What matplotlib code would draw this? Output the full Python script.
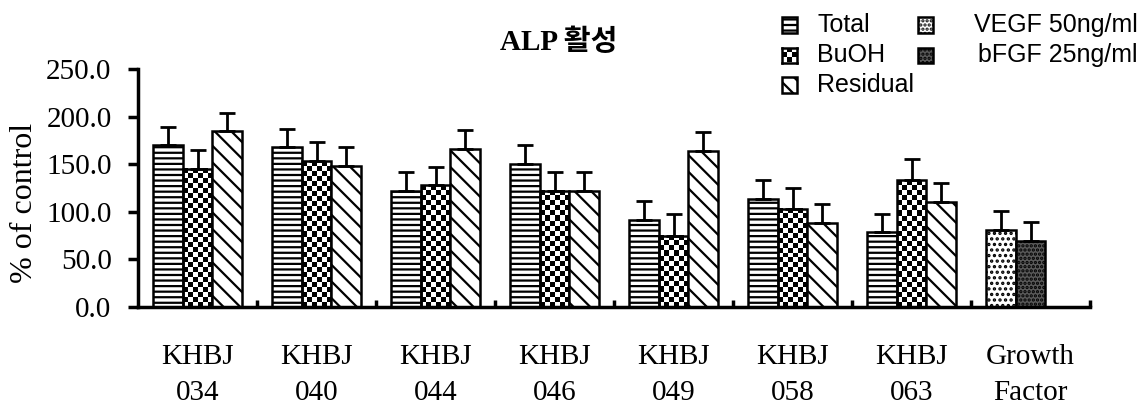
import numpy as np
import matplotlib
matplotlib.use("Agg")
import matplotlib.pyplot as plt
from matplotlib.patches import Rectangle

# ---------------------------------------------------------------- data
groups = ["KHBJ\n034", "KHBJ\n040", "KHBJ\n044", "KHBJ\n046",
          "KHBJ\n049", "KHBJ\n058", "KHBJ\n063", "Growth\nFactor"]
total = [170, 168, 122, 150, 91, 113, 79]
total_err = [19, 19, 20, 20, 20, 20, 19]
buoh = [145, 153, 128, 122, 75, 103, 133]
buoh_err = [20, 20, 19, 20, 23, 22, 22]
residual = [185, 148, 166, 122, 164, 88, 110]
residual_err = [19, 20, 20, 20, 20, 20, 20]
growth = [80.5, 69]          # VEGF 50ng/ml, bFGF 25ng/ml
growth_err = [20, 20]

yticks = [0, 50, 100, 150, 200, 250]

# ---------------------------------------------------------------- style
plt.rcParams["hatch.linewidth"] = 1.6
SERIF = ["Liberation Serif", "DejaVu Serif"]
SANS = ["Liberation Sans", "DejaVu Sans"]
W = 0.25
EDGE = 1.8

fig = plt.figure(figsize=(11.44, 4.05), dpi=100)
ax = fig.add_axes([138 / 1144, 1 - 307 / 405, (1090 - 138) / 1144, (307 - 69) / 405])

n = len(total)
x0 = np.arange(n) + 0.125          # left edge of first bar in group


def up_err(x, y, e):
    ax.errorbar(x, y, yerr=[np.zeros(len(e)), e], fmt="none", ecolor="black",
                elinewidth=2, capsize=6, capthick=2, zorder=3)


def checker_bars(lefts, heights):
    # checkerboard fill drawn as a tiny image inside each bar
    px_per_unit = 239 / 250
    for l, h in zip(lefts, heights):
        rows = max(1, int(round(h * px_per_unit / 5)))
        cols = 6
        img = (np.indices((rows, cols)).sum(axis=0) % 2).astype(float)
        ax.imshow(img, cmap="gray", extent=(l, l + W, 0, h), aspect="auto",
                  interpolation="nearest", zorder=1)


# Total
ax.bar(x0, total, W, align="edge", facecolor="white", edgecolor="black",
       linewidth=EDGE, hatch="---", zorder=2)
up_err(x0 + W / 2, total, total_err)

# BuOH
checker_bars(x0 + W, buoh)
ax.bar(x0 + W, buoh, W, align="edge", facecolor="none", edgecolor="black",
       linewidth=EDGE, zorder=2)
up_err(x0 + 1.5 * W, buoh, buoh_err)

# Residual
ax.bar(x0 + 2 * W, residual, W, align="edge", facecolor="white", edgecolor="black",
       linewidth=EDGE, hatch="\\\\", zorder=2)
up_err(x0 + 2.5 * W, residual, residual_err)

# Growth factor
gx = n + 0.125
ax.bar([gx], [growth[0]], W, align="edge", facecolor="white", edgecolor="black",
       linewidth=EDGE, hatch="...", zorder=2)
ax.bar([gx + W], [growth[1]], W, align="edge", facecolor="#5a5a5a", edgecolor="black",
       linewidth=EDGE, hatch="....", zorder=2)
up_err([gx + W / 2, gx + 1.5 * W], growth, growth_err)

# ---------------------------------------------------------------- axes
ax.set_xlim(0, len(groups))
ax.set_ylim(0, 250)
for s in ["top", "right"]:
    ax.spines[s].set_visible(False)
ax.spines["left"].set_linewidth(2.5)
ax.spines["bottom"].set_linewidth(2.5)

ax.set_yticks(yticks)
ax.set_yticklabels([f"{v:.1f}" for v in yticks], fontfamily=SERIF, fontsize=21)
ax.tick_params(axis="y", direction="out", length=7, width=2.5, pad=12)

ax.set_xticks(np.arange(1, len(groups) + 1))
ax.set_xticklabels([])
ax.tick_params(axis="x", which="major", direction="in", length=5, width=2.5)
ax.set_xticks(np.arange(len(groups)) + 0.5, minor=True)
ax.set_xticklabels(groups, minor=True, fontfamily=SERIF, fontsize=21, linespacing=1.45)
ax.tick_params(axis="x", which="minor", length=0, pad=27)

fig.text(25 / 1144, 1 - 203 / 405, "% of control", rotation=90, ha="center",
         va="center", fontsize=23, family=SERIF)
fig.text(559 / 1144, 1 - 42 / 405, "ALP 활성", ha="center", va="center",
         fontsize=21, fontweight="bold",
         family=["Liberation Serif", "Noto Sans CJK KR"])

# ---------------------------------------------------------------- legend (manual)
FW, FH = 1144, 405
ICON = 15


def icon(xp, yc, **kw):
    r = Rectangle((xp / FW, 1 - (yc + ICON / 2) / FH), ICON / FW, ICON / FH,
                  transform=fig.transFigure, edgecolor="black", linewidth=1.8, **kw)
    fig.patches.append(r)


icon(782, 25, facecolor="white", hatch="---")
# checker icon
cax = fig.add_axes([782 / FW, 1 - (55 + ICON / 2) / FH, ICON / FW, ICON / FH])
cax.imshow((np.indices((3, 3)).sum(axis=0) % 2 == 0).astype(float), cmap="gray",
           interpolation="nearest", aspect="auto")
cax.set_xticks([])
cax.set_yticks([])
for s in cax.spines.values():
    s.set_linewidth(1.8)
icon(782, 85, facecolor="white", hatch="\\\\")
icon(918, 25, facecolor="white", hatch="....")
icon(918, 55, facecolor="#5a5a5a", hatch="....")

for txt, xp, yc, ha in [("Total", 817, 25, "left"), ("BuOH", 817, 55, "left"),
                        ("Residual", 817, 85, "left"),
                        ("VEGF 50ng/ml", 1138, 25, "right"),
                        ("bFGF 25ng/ml", 1138, 55, "right")]:
    fig.text(xp / FW, 1 - yc / FH, txt, ha=ha, va="center",
             fontsize=18, family=SANS)

fig.savefig("out.png", dpi=100, facecolor="white")
